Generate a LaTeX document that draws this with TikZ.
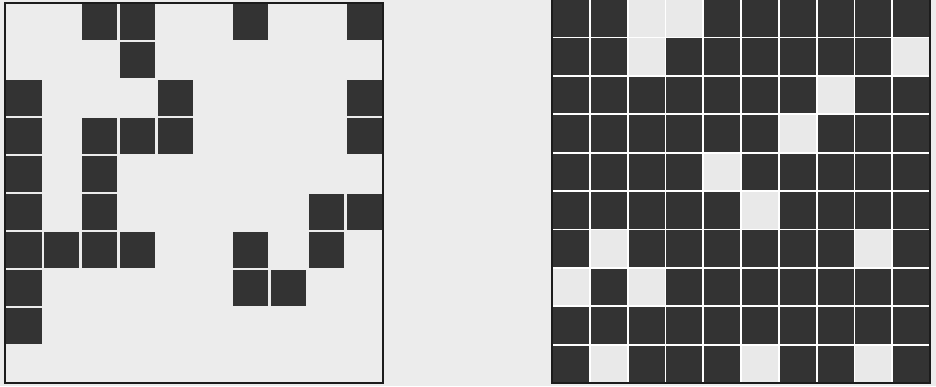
\documentclass[tikz,border=0pt]{standalone}
\definecolor{bg}{HTML}{ECECEC}
\definecolor{lite}{HTML}{E9E9E9}
\definecolor{ink}{HTML}{333333}
\definecolor{framec}{HTML}{1C1C1C}
\tikzset{
  cellfill/.style={fill=ink},
  gridline/.style={draw=white,line width=1.8pt},
  frameline/.style={draw=framec,line width=1.8pt}
}
\begin{document}
\begin{tikzpicture}[x=1pt,y=-1pt]
\fill[bg] (0,0) rectangle (936,386);
\useasboundingbox (0,0) rectangle (936,386);
% ---------- left grid ----------
\def\LX{5}\def\LY{3}\def\LW{37.8}\def\LH{38}
\foreach \r/\c in {0/2,0/3,0/6,0/9,
                   1/3,
                   2/0,2/4,2/9,
                   3/0,3/2,3/3,3/4,3/9,
                   4/0,4/2,
                   5/0,5/2,5/8,5/9,
                   6/0,6/1,6/2,6/3,6/6,6/8,
                   7/0,7/6,7/7,
                   8/0}
  \fill[cellfill] ({\LX+\c*\LW+1.3},{\LY+\r*\LH+1.3}) rectangle ++({\LW-2.6},{\LH-2.6});
\draw[frameline] (\LX,\LY) rectangle ++(378,380);
% ---------- right grid ----------
\def\RX{552}\def\RY{-1}\def\RW{37.8}\def\RH{38.4}
\fill[cellfill] (\RX,\RY) rectangle ++(378,384);
\foreach \r/\c in {0/2,0/3,
                   1/2,1/9,
                   2/7,
                   3/6,
                   4/4,
                   5/5,
                   6/1,6/8,
                   7/0,7/2,
                   9/1,9/5,9/8}
  \fill[lite] ({\RX+\c*\RW},{\RY+\r*\RH}) rectangle ++(\RW,\RH);
\foreach \i in {1,...,9} {
  \draw[gridline] ({\RX+\i*\RW},\RY) -- ++(0,384);
  \draw[gridline] (\RX,{\RY+\i*\RH}) -- ++(378,0);
}
\draw[frameline] (\RX,\RY) rectangle ++(378,384);
\end{tikzpicture}
\end{document}
